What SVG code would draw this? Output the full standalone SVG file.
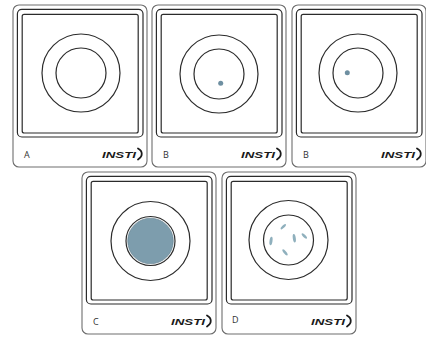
<svg xmlns="http://www.w3.org/2000/svg" xmlns:xlink="http://www.w3.org/1999/xlink" width="426" height="337" viewBox="0 0 426 337">
  <style>
    .card { fill: #ffffff; stroke: #6e6e6e; stroke-width: 1.1; }
    .frame { fill: none; stroke: #2b2b2b; stroke-width: 1.2; }
    .ring { fill: none; stroke: #2b2b2b; stroke-width: 1.2; }
    .label { font-family: "Open Sans", "Liberation Sans", sans-serif; font-size: 9px; fill: #333333; }
    .logo { font-family: "Liberation Sans", Arial, sans-serif; font-size: 9.5px; font-style: italic; font-weight: bold; fill: #1a1a1a; }
    .swoosh { fill: none; stroke: #1a1a1a; stroke-width: 1.8; stroke-linecap: round; }
    .spot { fill: #6e8fa1; }
    .fill { fill: #7d9dad; stroke: #5d7b8a; stroke-width: 0.6; }
    .rod { fill: #8fb0bd; }
  </style>
  <defs>
    <!-- test cassette body: outline, window border, reading window, logo -->
    <g id="frame">
      <rect class="card" x="0" y="0" width="134" height="162" rx="6"/>
      <rect class="frame" x="4.4" y="4.3" width="125.6" height="127.7" rx="4.5"/>
      <rect class="frame" x="9.2" y="9.3" width="116" height="118.7" rx="2"/>
      <text class="logo" x="89" y="153.3" textLength="34" lengthAdjust="spacingAndGlyphs">INSTI</text>
      <path class="swoosh" d="M125,143.5 C130,146 130,151.5 125,154.5"/>
    </g>
  </defs>

  <!-- top row -->
  <g id="card-a" transform="translate(13,5)">
    <use xlink:href="#frame"/>
    <circle class="ring" cx="68" cy="68" r="39"/>
    <circle class="ring" cx="68" cy="68" r="25"/>
    <text class="label" x="11" y="153">A</text>
  </g>

  <g id="card-b1" transform="translate(152,5)">
    <use xlink:href="#frame"/>
    <circle class="ring" cx="67" cy="69" r="39"/>
    <circle class="ring" cx="67" cy="69" r="25"/>
    <circle class="spot" cx="68.7" cy="78.3" r="2.5"/>
    <text class="label" x="11" y="153">B</text>
  </g>

  <g id="card-b2" transform="translate(292,5)">
    <use xlink:href="#frame"/>
    <circle class="ring" cx="66" cy="68" r="39"/>
    <circle class="ring" cx="66" cy="68" r="25"/>
    <circle class="spot" cx="55.3" cy="67.7" r="2.5"/>
    <text class="label" x="11" y="153">B</text>
  </g>

  <!-- bottom row -->
  <g id="card-c" transform="translate(82,172)">
    <use xlink:href="#frame"/>
    <circle class="ring" cx="68.5" cy="69" r="39.5"/>
    <circle class="ring" cx="68.5" cy="69" r="24.5"/>
    <circle class="fill" cx="68.5" cy="69" r="22.8"/>
    <text class="label" x="11" y="153">C</text>
  </g>

  <g id="card-d" transform="translate(222,172)">
    <use xlink:href="#frame"/>
    <circle class="ring" cx="66.5" cy="68" r="39.5"/>
    <circle class="ring" cx="66.5" cy="68" r="25"/>
    <ellipse class="rod" cx="61.3" cy="54.7" rx="1.3" ry="3.5" transform="rotate(45 61.3 54.7)"/>
    <ellipse class="rod" cx="72.3" cy="66.3" rx="1.5" ry="4.3" transform="rotate(-8 72.3 66.3)"/>
    <ellipse class="rod" cx="82.3" cy="64" rx="1.3" ry="3.5" transform="rotate(-45 82.3 64)"/>
    <ellipse class="rod" cx="49" cy="69" rx="1.5" ry="4.3" transform="rotate(8 49 69)"/>
    <ellipse class="rod" cx="63" cy="80.3" rx="1.3" ry="3.8" transform="rotate(-40 63 80.3)"/>
    <text class="label" x="10" y="151">D</text>
  </g>
</svg>
